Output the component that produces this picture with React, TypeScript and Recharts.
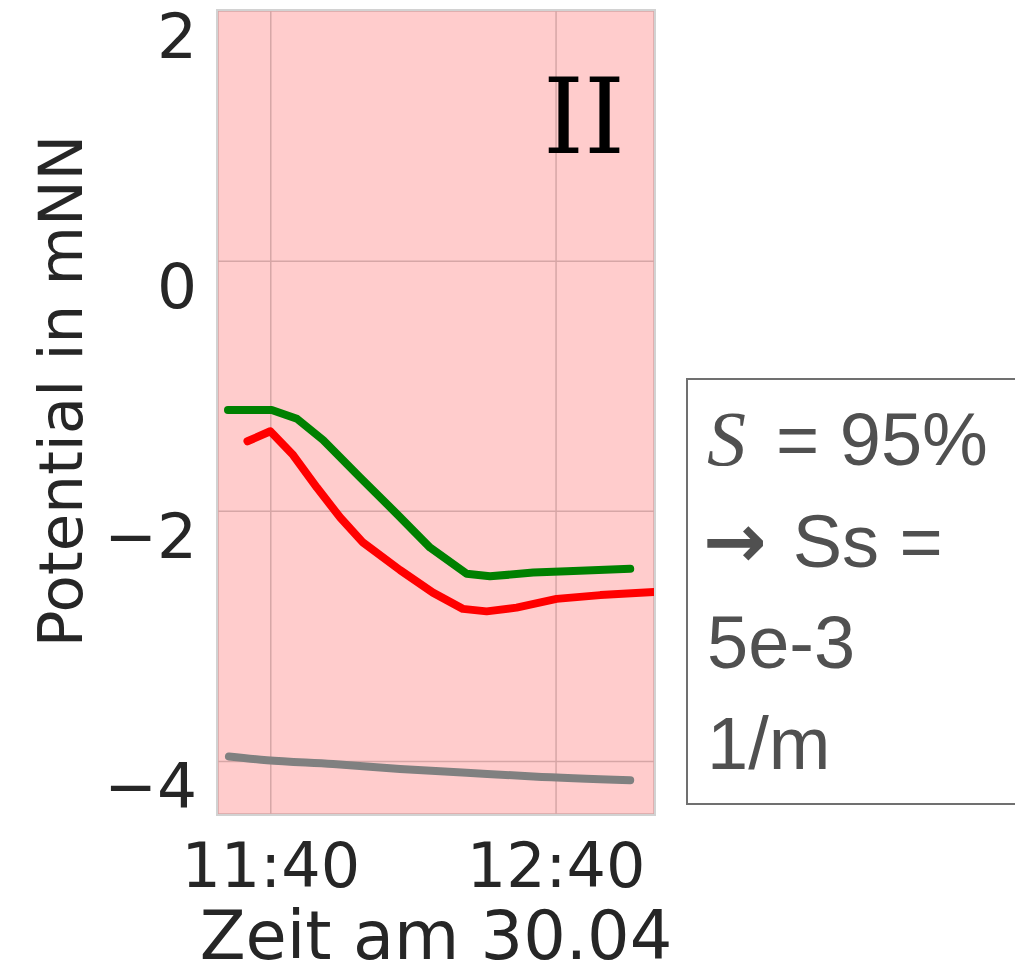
import React from "react";
import { LineChart, Line, XAxis, YAxis, CartesianGrid } from "recharts";

// time in minutes after 11:00, potential in mNN
const greenTime = [31, 40.2, 45.5, 51, 58.8, 66.5, 73.5, 81.2, 86.1, 95.2, 102.3, 115.6];
const greenValue = [-1.19, -1.19, -1.26, -1.43, -1.73, -2.02, -2.29, -2.5, -2.52, -2.49, -2.48, -2.46];

const redTime = [35.1, 39.9, 44.7, 49.7, 54.6, 59.4, 67.2, 74.1, 80.4, 85.4, 91.7, 100.1, 109.3, 120.6];
const redValue = [-1.44, -1.36, -1.55, -1.81, -2.05, -2.25, -2.47, -2.65, -2.78, -2.8, -2.77, -2.7, -2.67, -2.645];

const grayTime = [31.2, 39.2, 53.1, 67.2, 81.2, 95.2, 115.6];
const grayValue = [-3.96, -3.99, -4.02, -4.06, -4.09, -4.12, -4.15];

const xTicks = [40, 100];
const yTicks = [-4, -2, 0, 2];

const toRows = (t: number[], v: number[]) => t.map((x, i) => ({ t: x, v: v[i] }));

const fmtTime = (m: number) => {
  const h = 11 + Math.floor(m / 60);
  const mm = Math.round(m % 60);
  return `${h}:${mm.toString().padStart(2, "0")}`;
};

const fmtNum = (v: number) => (v < 0 ? `\u2212${Math.abs(v)}` : `${v}`);

const tickColor = "#262626";
const sans = "'DejaVu Sans', sans-serif";

const XTick = (props: any) => {
  const { x, y, payload } = props;
  return (
    <text x={x} y={y} dy={73} textAnchor="middle" fontSize={62} fontFamily={sans} fill={tickColor}>
      {fmtTime(payload.value)}
    </text>
  );
};

const YTick = (props: any) => {
  const { x, y, payload } = props;
  return (
    <text x={x} y={y} dx={-21} dy={47} textAnchor="end" fontSize={63} fontFamily={sans} fill={tickColor}>
      {fmtNum(payload.value)}
    </text>
  );
};

export default function App() {
  return (
    <div
      style={{
        position: "absolute",
        left: 0,
        top: 0,
        width: 1015,
        height: 968,
        overflow: "hidden",
        background: "#fff",
      }}
    >
      <LineChart
        width={1015}
        height={968}
        margin={{ top: 11, right: 361, left: 0, bottom: 0 }}
      >
        <CartesianGrid stroke="#d6a6a6" strokeWidth={1.5} fill="#ffcccc" />
        <XAxis
          dataKey="t"
          type="number"
          domain={[28.9, 120.6]}
          ticks={xTicks}
          allowDataOverflow
          height={154}
          axisLine={false}
          tickLine={false}
          tickSize={0}
          tickMargin={0}
          tick={<XTick />}
        />
        <YAxis
          type="number"
          domain={[-4.42, 2]}
          ticks={yTicks}
          allowDataOverflow
          width={218}
          axisLine={false}
          tickLine={false}
          tickSize={0}
          tickMargin={0}
          tick={<YTick />}
        />
        <Line
          data={toRows(grayTime, grayValue)}
          dataKey="v"
          type="monotone"
          stroke="#808080"
          strokeWidth={8}
          strokeLinecap="round"
          strokeLinejoin="round"
          dot={false}
          isAnimationActive={false}
        />
        <Line
          data={toRows(redTime, redValue)}
          dataKey="v"
          type="linear"
          stroke="#ff0000"
          strokeWidth={8}
          strokeLinecap="round"
          strokeLinejoin="round"
          dot={false}
          isAnimationActive={false}
        />
        <Line
          data={toRows(greenTime, greenValue)}
          dataKey="v"
          type="linear"
          stroke="#008000"
          strokeWidth={8}
          strokeLinecap="round"
          strokeLinejoin="round"
          dot={false}
          isAnimationActive={false}
        />
      </LineChart>

      {/* plot frame */}
      <div
        style={{
          position: "absolute",
          left: 216,
          top: 9,
          width: 440,
          height: 807,
          border: "2.5px solid #d2d2d2",
          boxSizing: "border-box",
          pointerEvents: "none",
        }}
      />

      <svg
        width={1015}
        height={968}
        style={{ position: "absolute", left: 0, top: 0, pointerEvents: "none" }}
      >
        <text x={584} y={153} textAnchor="middle" fontSize={104} fontFamily="'DejaVu Serif', serif" fill="#000">
          II
        </text>
        <text x={436} y={959} textAnchor="middle" fontSize={67} fontFamily={sans} fill={tickColor}>
          Zeit am 30.04
        </text>
        <text
          transform="translate(82,391) rotate(-90)"
          textAnchor="middle"
          fontSize={61}
          fontFamily={sans}
          fill={tickColor}
        >
          Potential in mNN
        </text>
      </svg>

      {/* parameter box */}
      <div
        style={{
          position: "absolute",
          left: 686,
          top: 378,
          width: 360,
          height: 427,
          border: "2px solid #707070",
          boxSizing: "border-box",
          background: "#fff",
          color: "#505050",
          fontFamily: "'Liberation Sans', Arial, sans-serif",
          fontSize: 74,
          lineHeight: "101px",
          paddingTop: 8,
          paddingLeft: 19,
          whiteSpace: "nowrap",
        }}
      >
        <div>
          <span style={{ fontFamily: "'Liberation Serif', serif", fontStyle: "italic", fontSize: 78, marginRight: 30 }}>
            S
          </span>
          = 95%
        </div>
        <div>
          <span style={{ fontFamily: sans, fontWeight: "bold", fontSize: 76, marginLeft: -4, marginRight: 26 }}>→</span>
          Ss =
        </div>
        <div>5e-3</div>
        <div>1/m</div>
      </div>
    </div>
  );
}
